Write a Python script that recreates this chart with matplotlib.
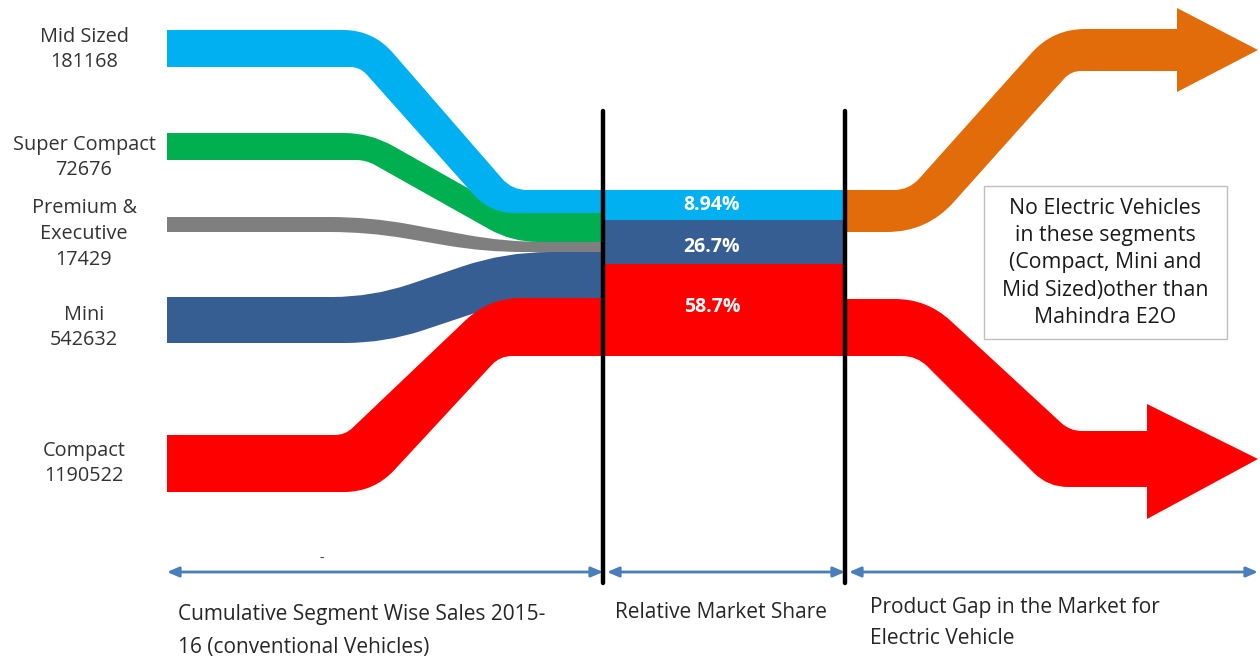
import matplotlib
matplotlib.use('Agg')
import matplotlib.pyplot as plt
from matplotlib.path import Path
from matplotlib.patches import PathPatch, Rectangle

plt.rcParams['font.family'] = ['Open Sans', 'DejaVu Sans']

# data
segments = ['Mid Sized', 'Super Compact', 'Premium &\nExecutive', 'Mini', 'Compact']
sales = [181168, 72676, 17429, 542632, 1190522]
share_names = ['Mid Sized', 'Mini', 'Compact']
shares = [8.94, 26.7, 58.7]
gap_note = ['No Electric Vehicles', 'in these segments', '(Compact, Mini and',
            'Mid Sized)other than', 'Mahindra E2O']
section_titles = ['Cumulative Segment Wise Sales 2015-\n16 (conventional Vehicles)',
                  'Relative Market Share',
                  'Product Gap in the Market for\nElectric Vehicle']

# layout (pixel coords, y down)
seg_colors = ['#00B0F0', '#00B050', '#7F7F7F', '#375E92', '#FF0000']
label_y = [49.5, 157.5, 234, 327.5, 463.5]
# edge = (y left, y right, corner 1 x, corner 2 x, radius 1, radius 2)
top_edges = [(30, 190, 373, 512, 30, 15), (133, 213, 370, 512, 26, 15),
             (217, 242, 370, 505, 40, 40), (297, 252, 372, 505, 40, 45),
             (435, 298, 345, 489, 10, 32)]
bot_edges = [(67, 213, 360, 490, 10, 25), (160, 242, 366, 512, 10, 26),
             (232, 252, 368, 485, 38, 38), (343, 298, 385, 520, 40, 40),
             (492, 356, 374, 500, 30, 12)]
x_left, x_mid1, x_mid2, x_right = 167, 603, 845, 1258
share_rows = [(190, 220), (220, 264), (264, 356)]
share_colors = ['#00B0F0', '#375E92', '#FF0000']
share_text_y = [205, 247, 307]


def edge(e):
    y0, y1, xa, xb, r0, r1 = e
    dx, dy = xb - xa, y1 - y0
    n = (dx * dx + dy * dy) ** 0.5
    ux, uy = dx / n, dy / n
    pts = [(xa - r0, y0), (xa, y0), (xa + r0 * ux, y0 + r0 * uy),
           (xb - r1 * ux, y1 - r1 * uy), (xb, y1), (xb + r1, y1)]
    return pts


C3, L = Path.CURVE3, Path.LINETO


def edge_fwd(e):
    p = edge(e)
    return p, [L, C3, C3, L, C3, C3]


def edge_rev(e):
    p = edge(e)[::-1]
    return p, [L, C3, C3, L, C3, C3]


def band_path(top, bot, x0, x1):
    tv, tc = edge_fwd(top)
    bv, bc = edge_rev(bot)
    verts = [(x0, top[0])] + tv + [(x1, top[1]), (x1, bot[1])] + bv + [(x0, bot[0]), (x0, top[0])]
    codes = [Path.MOVETO] + tc + [L, L] + bc + [L, Path.CLOSEPOLY]
    return Path(verts, codes)


def arrow_path(top, bot, x0, head_x, head_top, head_bot, tip_x):
    tv, tc = edge_fwd(top)
    bv, bc = edge_rev(bot)
    tip_y = (top[1] + bot[1]) / 2
    verts = ([(x0, top[0])] + tv +
             [(head_x, top[1]), (head_x, head_top), (tip_x, tip_y),
              (head_x, head_bot), (head_x, bot[1])] +
             bv + [(x0, bot[0]), (x0, top[0])])
    codes = [Path.MOVETO] + tc + [L] * 5 + bc + [L, Path.CLOSEPOLY]
    return Path(verts, codes)


fig = plt.figure(figsize=(12.6, 6.57), dpi=100)
ax = fig.add_axes([0, 0, 1, 1])
ax.set_xlim(0, 1260)
ax.set_ylim(657, 0)
ax.axis('off')

# left flows, drawn so red and mini sit on top
for i in [2, 1, 0, 3, 4]:
    p = band_path(top_edges[i], bot_edges[i], x_left, x_mid1)
    ax.add_patch(PathPatch(p, facecolor=seg_colors[i], edgecolor='none', zorder=2))

for i, name in enumerate(segments):
    ax.text(84, label_y[i], f'{name}\n{sales[i]}', ha='center', va='center',
            fontsize=14.3, color='#333333', linespacing=1.38)

# middle block with shares
for (y0, y1), col, s, ty in zip(share_rows, share_colors, shares, share_text_y):
    ax.add_patch(Rectangle((x_mid1, y0), x_mid2 - x_mid1, y1 - y0,
                           facecolor=col, edgecolor='none', zorder=2))
    ax.text(712, ty, f'{s:g}%', ha='center', va='center', fontsize=14,
            fontweight='bold', color='white', zorder=3)

# right arrows (gap)
orange = arrow_path((190, 29, 909, 1053, 15, 32), (232, 71, 927, 1071, 40, 10),
                    x_mid2, 1177, 8, 92, x_right)
ax.add_patch(PathPatch(orange, facecolor='#E36C0A', edgecolor='none', zorder=2))
red = arrow_path((299, 431, 927, 1070, 32, 12), (356, 487, 917, 1048, 15, 20),
                 x_mid2, 1147, 404, 519, x_right)
ax.add_patch(PathPatch(red, facecolor='#FF0000', edgecolor='none', zorder=2))

# note box
ax.add_patch(Rectangle((984, 186), 243, 153, facecolor='white',
                       edgecolor='#BFBFBF', linewidth=1, zorder=3))
for j, line in enumerate(gap_note):
    ax.text(1105, 208 + j * 27.4, line, ha='center', va='center', fontsize=15.3,
            color='#1a1a1a', zorder=4)

# divider lines
for x in (x_mid1, x_mid2):
    ax.plot([x, x], [111, 583], color='black', linewidth=3.2, zorder=5,
            solid_capstyle='round')

# bottom double arrows
for a, b in [(x_left, x_mid1), (x_mid1 + 4, x_mid2), (x_mid2 + 4, x_right)]:
    ax.annotate('', xy=(a, 572), xytext=(b, 572),
                arrowprops=dict(arrowstyle='<|-|>,head_length=0.7,head_width=0.3',
                                color='#4A7EBB', lw=2, shrinkA=0, shrinkB=0))
ax.text(322, 558, '-', ha='center', va='center', fontsize=10, color='#404040')

ax.text(178, 631, section_titles[0], ha='left', va='center', fontsize=15,
        color='#262626', linespacing=1.69)
ax.text(615, 612, section_titles[1], ha='left', va='center', fontsize=15,
        color='#262626')
ax.text(870, 623, section_titles[2], ha='left', va='center', fontsize=15,
        color='#262626', linespacing=1.59)

fig.savefig('out.png', dpi=100, facecolor='white')
